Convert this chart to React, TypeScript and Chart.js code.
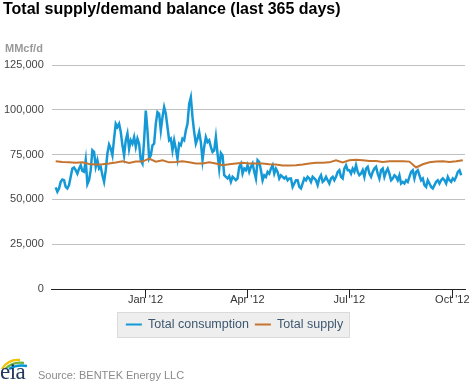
import React, { useEffect, useRef } from "react";
import { Chart, registerables } from "chart.js";

Chart.register(...registerables);

// ---- Data (MMcf/d) ----
const seriesNames = ["Total consumption", "Total supply"];
const seriesColors = ["#1599D6", "#C5742F"];

// daily-ish consumption samples (every ~1.49 days starting ~Oct 12, 2011)
const consumptionStartDay = -80.2; // days relative to Jan 1, 2012
const consumptionStepDays = 1.49;
const consumption = [
  56700, 54300, 56100, 59800, 61100, 60700, 57000, 56100, 58000, 62600,
  67200, 67800, 66300, 64400, 67200, 69100, 65900, 65400, 71900, 58500,
  60700, 66300, 77400, 76500, 68200, 71900, 67200, 68200, 63500, 59800,
  66300, 75600, 80600, 78300, 74600, 83900, 92200, 90400, 92200, 87600,
  80200, 74600, 83000, 86700, 78300, 83000, 81100, 84800, 79300, 83900,
  81100, 71900, 70000, 83000, 99600, 88500, 72800, 74600, 80200, 81100,
  92200, 98700, 97800, 88500, 95900, 101500, 97800, 90400, 83000, 83900,
  77400, 83000, 78300, 72800, 81100, 80200, 83900, 83000, 88500, 92200,
  103300, 107000, 95900, 87600, 81100, 83900, 87600, 82000, 71900, 79300,
  84800, 82000, 83000, 79300, 76500, 77400, 84800, 75600, 67200, 75900,
  74600, 63500, 62600, 61700, 63000, 59800, 62600, 61700, 60700, 61700,
  68200, 70000,
  64400, 67200, 66300, 69100, 65400, 68200, 70000, 65400, 61700, 71900,
  70900, 66300, 60700, 63500, 62600, 65400, 64400, 67200, 69100, 64400,
  67200, 65400, 61700, 63500, 62600, 61700, 62600, 60700, 61700, 61700,
  57000, 58900, 60700, 60700, 57000, 56100, 58900, 61700, 60700, 62600,
  61700, 59800, 62600, 61700, 60700, 58000, 61700, 63500, 59800, 60700,
  62600, 60700, 58900, 61700, 62600, 60700, 62600, 65400, 66300, 62600,
  61700, 67200, 69100, 66300, 66300, 64400, 67200, 65400, 69100, 65400,
  63500, 64400, 66300, 62600, 67200, 68200, 64400, 62600, 65400, 67200,
  68200, 64400, 61700, 66300, 67200, 62600, 65400, 67200, 64400, 60700,
  61700, 63500, 62600, 60700, 63500, 58900, 59800, 58900, 60700, 59800,
  62600, 65400, 66300, 61700, 65400, 66300, 63500, 60700, 61700, 58000,
  57000, 60700, 58900, 57000, 56100, 58000, 59800, 60700, 58900, 60700,
  61700, 60700, 58900, 62600, 60700, 59800, 61700, 60700, 62600, 65400,
  66300, 63500,
];

const supplyStartDay = -80.2;
const supplyStepDays = 5.96;
const supply = [
  71300, 70900, 70700, 70400, 70700, 69800, 69500, 69600, 70000, 70600,
  71300, 70400, 71100, 71100, 72800, 71100, 71900, 70700, 70900, 71300,
  70700, 70000, 70000, 70700, 70000, 69100, 69600, 70000, 70400, 70000,
  70000, 70000, 69600, 69500, 68900, 68900, 69100, 69500, 70000, 70400,
  70400, 70700, 71900, 70700, 71900, 72200, 71900, 71500, 71500, 70900,
  71300, 71300, 71300, 71100, 67800, 69600, 70700, 71100, 71300, 70900,
  71300, 71900,
];

const xMinDay = -83.7;
const xMaxDay = 285.3;
const xTickDays = [0, 91, 182, 274];
const xTickLabels = ["Jan '12", "Apr '12", "Jul '12", "Oct '12"];
const yTicks = [0, 25000, 50000, 75000, 100000, 125000];

const FONT = "'Liberation Sans', Arial, Helvetica, sans-serif";

const fmt = (v: number) => String(v).replace(/\B(?=(\d{3})+(?!\d))/g, ",");

const legendBoxPlugin = {
  id: "legendBoxBg",
  beforeDraw(chart: any) {
    const lg = chart.legend;
    if (!lg || !lg.legendHitBoxes || !lg.legendHitBoxes.length) return;
    const hb = lg.legendHitBoxes;
    const first = hb[0];
    const last = hb[hb.length - 1];
    const cy = first.top + first.height / 2;
    const left = Math.round(first.left - 9) + 0.5;
    const right = Math.round(last.left + last.width + 6) + 0.5;
    const top = Math.round(cy - 12.5) + 0.5;
    const h = 25;
    const ctx = chart.ctx;
    ctx.save();
    ctx.fillStyle = "#EEEEEE";
    ctx.fillRect(left, top, right - left, h);
    ctx.strokeStyle = "#DADADA";
    ctx.lineWidth = 1;
    ctx.strokeRect(left, top, right - left, h);
    ctx.restore();
  },
};

function EiaLogo() {
  return (
    <div style={{ position: "absolute", left: 0, top: 352, width: 34, height: 31, overflow: "hidden" }}>
      <svg width="34" height="18" style={{ position: "absolute", left: 0, top: 3 }}>
        <path d="M2 14 Q 8 4 20 5" stroke="#F2C200" strokeWidth="2.4" fill="none" />
        <path d="M5 14 Q 13 6 24 8" stroke="#6DB33F" strokeWidth="2.4" fill="none" />
        <path d="M9 14 Q 17 9 27 11" stroke="#0095D5" strokeWidth="2.4" fill="none" />
      </svg>
      <span
        style={{
          position: "absolute",
          left: 0,
          top: 8,
          fontFamily: "'Liberation Serif', 'DejaVu Serif', serif",
          fontSize: 23,
          lineHeight: "23px",
          color: "#23385F",
          letterSpacing: "-0.5px",
        }}
      >
        eia
      </span>
    </div>
  );
}

export default function App() {
  const canvasRef = useRef<HTMLCanvasElement | null>(null);

  useEffect(() => {
    if (!canvasRef.current) return;
    const consPoints = consumption.map((v, i) => ({ x: consumptionStartDay + i * consumptionStepDays, y: v }));
    const supPoints = supply.map((v, i) => ({ x: supplyStartDay + i * supplyStepDays, y: v }));

    const chart = new Chart(canvasRef.current, {
      type: "line",
      data: {
        datasets: [
          {
            label: seriesNames[0],
            data: consPoints,
            borderColor: seriesColors[0],
            backgroundColor: seriesColors[0],
            borderWidth: 2.5,
            pointRadius: 0,
            tension: 0,
            order: 1,
          },
          {
            label: seriesNames[1],
            data: supPoints,
            borderColor: seriesColors[1],
            backgroundColor: seriesColors[1],
            borderWidth: 2,
            pointRadius: 0,
            tension: 0,
            order: 0,
          },
        ],
      },
      options: {
        responsive: false,
        animation: false,
        devicePixelRatio: 1,
        parsing: false as any,
        layout: { padding: { top: 65, left: 4, right: 5, bottom: 42.25 } },
        plugins: {
          title: { display: false },
          tooltip: { enabled: false },
          legend: {
            display: true,
            position: "bottom",
            labels: {
              boxWidth: 16,
              boxHeight: 2,
              padding: 6,
              color: "#3E576F",
              font: { family: FONT, size: 12.5 },
              generateLabels: (c: any) =>
                c.data.datasets.map((ds: any, i: number) => ({
                  text: ds.label,
                  fillStyle: ds.borderColor,
                  strokeStyle: ds.borderColor,
                  lineWidth: 0,
                  hidden: false,
                  datasetIndex: i,
                  fontColor: "#3E576F",
                })),
            },
          },
        },
        scales: {
          x: {
            type: "linear",
            min: xMinDay,
            max: xMaxDay,
            afterBuildTicks: (s: any) => {
              s.ticks = xTickDays.map((v) => ({ value: v }));
            },
            afterFit: (s: any) => {
              s.height += 11;
            },
            ticks: {
              autoSkip: false,
              maxRotation: 0,
              padding: -5,
              color: "#333333",
              font: { family: FONT, size: 11 },
              callback: (v: any) => {
                const i = xTickDays.indexOf(Number(v));
                return i >= 0 ? xTickLabels[i] : "";
              },
            },
            grid: { drawOnChartArea: false, drawTicks: true, tickLength: 9, color: "#222222" },
            border: { display: true, color: "#222222" },
          },
          y: {
            min: 0,
            max: 125000,
            afterBuildTicks: (s: any) => {
              s.ticks = yTicks.map((v) => ({ value: v }));
            },
            afterFit: (s: any) => {
              s.width -= 8;
            },
            ticks: {
              padding: 8,
              color: "#444444",
              font: { family: FONT, size: 11 },
              callback: (v: any) => fmt(Number(v)),
            },
            grid: {
              drawTicks: false,
              color: (ctx: any) => (ctx.tick && ctx.tick.value === 0 ? "rgba(0,0,0,0)" : "#C0C0C0"),
            },
            border: { display: false },
          },
        },
      } as any,
      plugins: [legendBoxPlugin],
    });
    return () => chart.destroy();
  }, []);

  return (
    <div style={{ position: "absolute", left: 0, top: 0, width: 470, height: 383, overflow: "hidden", background: "#fff" }}>
      <canvas ref={canvasRef} width={470} height={383} style={{ position: "absolute", left: 0, top: 0, display: "block" }} />
      <div
        style={{
          position: "absolute",
          left: 3,
          top: 1,
          fontFamily: FONT,
          fontWeight: "bold",
          fontSize: 16,
          lineHeight: "16px",
          color: "#000",
          whiteSpace: "nowrap",
        }}
      >
        Total supply/demand balance (last 365 days)
      </div>
      <div
        style={{
          position: "absolute",
          left: 5,
          top: 43,
          fontFamily: FONT,
          fontWeight: "bold",
          fontSize: 11,
          lineHeight: "11px",
          color: "#999999",
        }}
      >
        MMcf/d
      </div>
      <EiaLogo />
      <div
        style={{
          position: "absolute",
          left: 38,
          top: 370,
          fontFamily: FONT,
          fontSize: 11,
          lineHeight: "11px",
          color: "#8A8A8A",
          whiteSpace: "nowrap",
        }}
      >
        Source: BENTEK Energy LLC
      </div>
    </div>
  );
}
